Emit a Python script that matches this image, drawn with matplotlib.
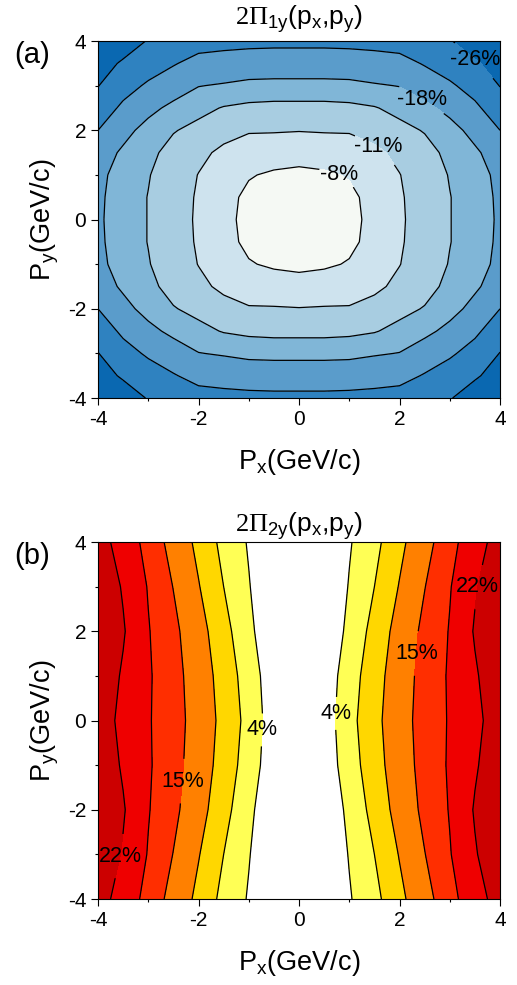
import matplotlib
matplotlib.use("Agg")
import matplotlib.pyplot as plt

plt.rcParams["font.family"] = ["Liberation Sans", "DejaVu Sans"]
plt.rcParams["mathtext.fontset"] = "custom"
plt.rcParams["mathtext.rm"] = "Liberation Serif"
plt.rcParams["mathtext.default"] = "regular"
plt.rcParams["axes.unicode_minus"] = False

# panel (a): 2*Pi_1y(px, py) in %, rows py = -4..4, columns px = -4..4 (step 0.5)
px_a = [-4, -3.5, -3, -2.5, -2, -1.5, -1, -0.5, 0, 0.5, 1, 1.5, 2, 2.5, 3, 3.5, 4]
py_a = [-4, -3.5, -3, -2.5, -2, -1.5, -1, -0.5, 0, 0.5, 1, 1.5, 2, 2.5, 3, 3.5, 4]
pi1y = [
    [-29.5, -27.6, -25.8, -24.6, -23.6, -23.2, -23.0, -22.9, -22.9, -22.9, -23.0, -23.2, -23.6, -24.6, -25.8, -27.6, -29.5],
    [-27.3, -25.6, -24.0, -22.3, -20.7, -20.4, -20.1, -20.0, -20.0, -20.0, -20.1, -20.4, -20.7, -22.3, -24.0, -25.6, -27.3],
    [-26.1, -23.6, -21.4, -19.7, -18.1, -17.7, -17.2, -17.1, -17.1, -17.1, -17.2, -17.7, -18.1, -19.7, -21.4, -23.6, -26.1],
    [-24.4, -21.2, -18.9, -17.2, -15.9, -14.8, -14.3, -14.1, -14.1, -14.1, -14.3, -14.8, -15.9, -17.2, -18.9, -21.2, -24.4],
    [-22.0, -19.0, -16.9, -15.2, -14.1, -12.3, -11.2, -11.2, -11.1, -11.2, -11.2, -12.3, -14.1, -15.2, -16.9, -19.0, -22.0],
    [-19.6, -17.5, -15.8, -13.9, -11.9, -10.2, -9.8, -9.4, -9.2, -9.4, -9.8, -10.2, -11.9, -13.9, -15.8, -17.5, -19.6],
    [-18.7, -16.9, -15.2, -13.0, -10.9, -9.6, -8.2, -7.6, -7.3, -7.6, -8.2, -9.6, -10.9, -13.0, -15.2, -16.9, -18.7],
    [-18.5, -16.7, -14.9, -12.7, -10.6, -8.9, -7.4, -6.4, -5.9, -6.4, -7.4, -8.9, -10.6, -12.7, -14.9, -16.7, -18.5],
    [-18.4, -16.7, -14.9, -12.6, -10.5, -8.8, -7.2, -6.2, -5.5, -6.2, -7.2, -8.8, -10.5, -12.6, -14.9, -16.7, -18.4],
    [-18.5, -16.7, -14.9, -12.7, -10.6, -8.9, -7.4, -6.4, -5.9, -6.4, -7.4, -8.9, -10.6, -12.7, -14.9, -16.7, -18.5],
    [-18.7, -16.9, -15.2, -13.0, -10.9, -9.6, -8.2, -7.6, -7.3, -7.6, -8.2, -9.6, -10.9, -13.0, -15.2, -16.9, -18.7],
    [-19.6, -17.5, -15.8, -13.9, -11.9, -10.2, -9.8, -9.4, -9.2, -9.4, -9.8, -10.2, -11.9, -13.9, -15.8, -17.5, -19.6],
    [-22.0, -19.0, -16.9, -15.2, -14.1, -12.3, -11.2, -11.2, -11.1, -11.2, -11.2, -12.3, -14.1, -15.2, -16.9, -19.0, -22.0],
    [-24.4, -21.2, -18.9, -17.2, -15.9, -14.8, -14.3, -14.1, -14.1, -14.1, -14.3, -14.8, -15.9, -17.2, -18.9, -21.2, -24.4],
    [-26.1, -23.6, -21.4, -19.7, -18.1, -17.7, -17.2, -17.1, -17.1, -17.1, -17.2, -17.7, -18.1, -19.7, -21.4, -23.6, -26.1],
    [-27.3, -25.6, -24.0, -22.3, -20.7, -20.4, -20.1, -20.0, -20.0, -20.0, -20.1, -20.4, -20.7, -22.3, -24.0, -25.6, -27.3],
    [-29.5, -27.6, -25.8, -24.6, -23.6, -23.2, -23.0, -22.9, -22.9, -22.9, -23.0, -23.2, -23.6, -24.6, -25.8, -27.6, -29.5],
]
bounds_a = [-31, -26, -22, -18, -15, -11, -8, -5]
colors_a = ["#0a68b1", "#2f82c0", "#5a9ccb", "#80b6d7", "#a8cde1",
            "#cee3ee", "#f5f9f4"]
lab_pos_a = [(0.80, 1.05), (1.62, 1.72), (2.45, 2.70), (3.48, 3.55)]

# panel (b): 2*Pi_2y(px, py) in %, rows py = -4..4, columns px = -4..4 (step 0.5)
px_b = [-4, -3.5, -3, -2.5, -2, -1.5, -1, -0.5, 0, 0.5, 1, 1.5, 2, 2.5, 3, 3.5, 4]
py_b = [-4, -3, -2, -1, 0, 1, 2, 3, 4]
pi2y = [
    [23.4, 20.6, 17.4, 13.6, 10.1, 6.5, 3.7, 0.8, 0, 0.8, 3.7, 6.5, 10.1, 13.6, 17.4, 20.6, 23.4],
    [24.5, 21.7, 18.3, 14.9, 11.2, 7.5, 4.2, 0.9, 0, 0.9, 4.2, 7.5, 11.2, 14.9, 18.3, 21.7, 24.5],
    [24.0, 22.3, 18.7, 15.9, 12.4, 8.7, 4.9, 1.0, 0, 1.0, 4.9, 8.7, 12.4, 15.9, 18.7, 22.3, 24.0],
    [24.3, 21.6, 18.9, 16.3, 13.1, 9.5, 5.9, 1.8, 0, 1.8, 5.9, 9.5, 13.1, 16.3, 18.9, 21.6, 24.3],
    [23.6, 21.2, 18.8, 16.4, 13.5, 9.9, 6.4, 2.1, 0, 2.1, 6.4, 9.9, 13.5, 16.4, 18.8, 21.2, 23.6],
    [24.3, 21.6, 18.9, 16.3, 13.1, 9.5, 5.9, 1.8, 0, 1.8, 5.9, 9.5, 13.1, 16.3, 18.9, 21.6, 24.3],
    [24.0, 22.3, 18.7, 15.9, 12.4, 8.7, 4.9, 1.0, 0, 1.0, 4.9, 8.7, 12.4, 15.9, 18.7, 22.3, 24.0],
    [24.5, 21.7, 18.3, 14.9, 11.2, 7.5, 4.2, 0.9, 0, 0.9, 4.2, 7.5, 11.2, 14.9, 18.3, 21.7, 24.5],
    [23.4, 20.6, 17.4, 13.6, 10.1, 6.5, 3.7, 0.8, 0, 0.8, 3.7, 6.5, 10.1, 13.6, 17.4, 20.6, 23.4],
]
bounds_b = [-1, 4, 7.5, 11, 15, 18.5, 22, 26]
colors_b = ["#ffffff", "#ffff55", "#ffd700", "#ff8000", "#ff2e00",
            "#ef0000", "#cc0000"]
lab_pos_b = [(-0.74, -0.21), (0.72, 0.16), (-2.20, -1.37), (2.26, 1.51),
             (3.50, 3.00), (-3.53, -3.05)]


def draw(ax, px, py, z, bounds, colors, lab_pos, title, pad, tag):
    ax.contourf(px, py, z, levels=bounds, colors=colors)
    cs = ax.contour(px, py, z, levels=bounds[1:-1], colors="k",
                    linewidths=0.9, linestyles="solid")
    cs.clabel(manual=lab_pos, inline=True, inline_spacing=1,
              fmt=lambda v: f"{v:g}%", fontsize=15.5, colors="k")
    for t in cs.labelTexts:
        t.set_rotation(0)
    ax.set_xlim(-4, 4)
    ax.set_ylim(-4, 4)
    ax.set_xticks([-4, -2, 0, 2, 4])
    ax.set_yticks([-4, -2, 0, 2, 4])
    ax.set_xticks([-3, -1, 1, 3], minor=True)
    ax.set_yticks([-3, -1, 1, 3], minor=True)
    ax.tick_params(which="major", direction="out", length=5, width=0.8,
                   labelsize=15, color="k")
    ax.tick_params(which="minor", direction="out", length=2.5, width=0.8)
    for s in ax.spines.values():
        s.set_linewidth(0.8)
    ax.set_xlabel("P$_x$(GeV/c)", fontsize=19.5, labelpad=13)
    ax.set_ylabel("P$_y$(GeV/c)", fontsize=19.5, labelpad=5)
    ax.set_title(title, fontsize=19, pad=pad)
    ax.text(-0.165, 0.962, tag, transform=ax.transAxes, fontsize=21,
            ha="center", va="center")


fig = plt.figure(figsize=(5.17, 9.85), dpi=100)
ax_a = fig.add_axes([0.1896, 0.5959, 0.7776, 0.3624])
ax_b = fig.add_axes([0.1896, 0.0873, 0.7776, 0.3624])

draw(ax_a, px_a, py_a, pi1y, bounds_a, colors_a, lab_pos_a,
     r"$\mathrm{2\Pi}_{1y}(p_x{,}p_y)$", 11.5, "(a)")
draw(ax_b, px_b, py_b, pi2y, bounds_b, colors_b, lab_pos_b,
     r"$\mathrm{2\Pi}_{2y}(p_x{,}p_y)$", 6.5, "(b)")

fig.savefig("out.png", dpi=100)
